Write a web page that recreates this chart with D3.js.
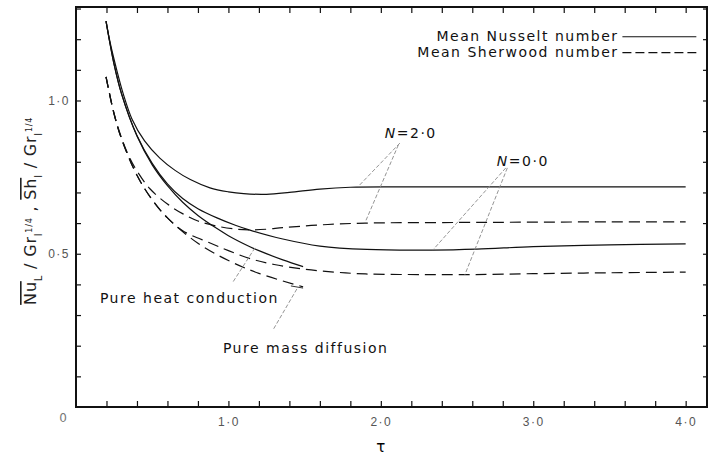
<!DOCTYPE html>
<html>
<head>
<meta charset="utf-8">
<script src="https://cdn.jsdelivr.net/npm/d3@7"></script>
<style>
  body { margin: 0; background: #fff; }
  svg { display: block; font-family: "DejaVu Sans", sans-serif; }
  .tick text { fill: #555; font-size: 12px; letter-spacing: 1.5px; }
  .tick line { stroke: #111; stroke-width: 1.2; }
  .curve { fill: none; stroke: #111; stroke-width: 1.2; }
  .dashed { stroke-dasharray: 11,6; }
  .leader { fill: none; stroke: #888; stroke-width: 0.9; stroke-dasharray: 4,2; }
  .lbl { font-size: 14px; fill: #111; letter-spacing: 1.5px; }
</style>
</head>
<body>
<script>
// values (tau, mean Nu or Sh divided by Gr^1/4)
var tauNu2 = [0.197, 0.223, 0.267, 0.308, 0.367, 0.45, 0.55, 0.65, 0.75, 0.879, 1.0, 1.1, 1.25, 1.4, 1.6, 1.8, 2.2, 2.6, 3.0, 3.5, 4.0];
var nu2    = [1.259, 1.191, 1.100, 1.025, 0.940, 0.868, 0.812, 0.772, 0.742, 0.715, 0.702, 0.696, 0.694, 0.700, 0.711, 0.717, 0.718, 0.718, 0.718, 0.718, 0.718];

var tauNu0 = [0.197, 0.25, 0.3, 0.4, 0.5, 0.6, 0.7, 0.8, 0.925, 1.05, 1.141, 1.357, 1.6, 1.908, 2.341, 2.63, 3.0, 3.5, 4.0];
var nu0    = [1.259, 1.118, 1.02, 0.886, 0.795, 0.728, 0.680, 0.647, 0.617, 0.592, 0.577, 0.548, 0.525, 0.514, 0.512, 0.515, 0.523, 0.529, 0.532];

var tauHeat = [0.197, 0.25, 0.3, 0.4, 0.5, 0.6, 0.7, 0.8, 0.925, 1.0, 1.141, 1.2, 1.357, 1.49];
var heat    = [1.259, 1.118, 1.02, 0.884, 0.79, 0.722, 0.668, 0.625, 0.582, 0.559, 0.523, 0.51, 0.48, 0.458];

var tauSh2 = [0.197, 0.25, 0.3, 0.35, 0.4, 0.485, 0.6, 0.702, 0.8, 0.925, 1.056, 1.141, 1.25, 1.357, 1.6, 1.9, 2.5, 3.0, 3.5, 4.0];
var sh2    = [1.077, 0.956, 0.876, 0.815, 0.77, 0.712, 0.662, 0.630, 0.607, 0.590, 0.580, 0.578, 0.580, 0.585, 0.594, 0.600, 0.602, 0.603, 0.604, 0.604];

var tauSh0 = [0.197, 0.25, 0.3, 0.4, 0.5, 0.6, 0.7, 0.88, 1.0, 1.15, 1.3, 1.49, 1.7, 1.9, 2.3, 2.6, 3.0, 3.5, 4.0];
var sh0    = [1.077, 0.956, 0.873, 0.756, 0.676, 0.617, 0.575, 0.535, 0.51, 0.483, 0.465, 0.450, 0.440, 0.434, 0.432, 0.432, 0.435, 0.438, 0.440];

var tauMass = [0.197, 0.25, 0.3, 0.4, 0.5, 0.6, 0.8, 1.0, 1.2, 1.49];
var mass    = [1.077, 0.956, 0.873, 0.756, 0.676, 0.617, 0.534, 0.478, 0.436, 0.392];

var xTickLabels = [1.0, 2.0, 3.0, 4.0];
var yTickLabels = [0.5, 1.0];

// annotation leaders, in data units: [tau1, v1, tau2, v2]
var leaders = [
  [2.125, 0.861, 1.849, 0.718],
  [2.115, 0.855, 1.895, 0.600],
  [2.82, 0.780, 2.341, 0.512],
  [2.83, 0.780, 2.551, 0.431],
  [1.174, 0.519, 1.03, 0.408],
  [1.449, 0.385, 1.292, 0.251]
];

var width = 709, height = 459;

var x = d3.scaleLinear().domain([0, 4.14]).range([76, 707]);
var y = d3.scaleLinear().domain([0, 1.305]).range([407, 7]);

var svg = d3.select("body").append("svg")
    .attr("width", width)
    .attr("height", height);

var fmt = function (d) { return d3.format(".1f")(d).replace(".", "\u00b7"); };
var xMinor = d3.range(0.2, 4.01, 0.2);
var yMinor = d3.range(0.1, 1.301, 0.1);
var isLabelled = function (arr) {
  return function (d) { return arr.some(function (v) { return Math.abs(v - d) < 1e-6; }) ? fmt(d) : ""; };
};

svg.append("g")
    .attr("transform", "translate(0," + y(0) + ")")
    .call(d3.axisBottom(x).tickValues(xMinor).tickSize(-6).tickPadding(10).tickFormat(isLabelled(xTickLabels)))
    .call(function (g) { g.select(".domain").remove(); });

svg.append("g")
    .attr("transform", "translate(0," + y(1.305) + ")")
    .call(d3.axisTop(x).tickValues(xMinor).tickSize(-6).tickFormat(""))
    .call(function (g) { g.select(".domain").remove(); });

svg.append("g")
    .attr("transform", "translate(" + x(0) + ",0)")
    .call(d3.axisLeft(y).tickValues(yMinor).tickSize(-5).tickPadding(6).tickFormat(isLabelled(yTickLabels)))
    .call(function (g) { g.select(".domain").remove(); });

svg.append("g")
    .attr("transform", "translate(" + x(4.14) + ",0)")
    .call(d3.axisRight(y).tickValues(yMinor).tickSize(-4).tickFormat(""))
    .call(function (g) { g.select(".domain").remove(); });

// origin label
svg.append("text")
    .attr("x", x(0) - 13).attr("y", y(0) + 15)
    .attr("text-anchor", "middle")
    .style("font-size", "12px").style("fill", "#777")
    .text("0");

// frame
svg.append("rect")
    .attr("x", x(0)).attr("y", y(1.305))
    .attr("width", x(4.14) - x(0)).attr("height", y(0) - y(1.305))
    .attr("fill", "none").attr("stroke", "#111").attr("stroke-width", 2);

var line = d3.line()
    .x(function (d) { return x(d[0]); })
    .y(function (d) { return y(d[1]); })
    .curve(d3.curveCatmullRom.alpha(0.5));

var series = [
  { t: tauNu2, v: nu2, dash: false },
  { t: tauNu0, v: nu0, dash: false },
  { t: tauHeat, v: heat, dash: false },
  { t: tauSh2, v: sh2, dash: true },
  { t: tauSh0, v: sh0, dash: true },
  { t: tauMass, v: mass, dash: true }
];

svg.selectAll("path.curve")
    .data(series)
    .enter().append("path")
    .attr("class", function (s) { return s.dash ? "curve dashed" : "curve"; })
    .attr("d", function (s) { return line(d3.zip(s.t, s.v)); });

svg.selectAll("line.leader")
    .data(leaders)
    .enter().append("line")
    .attr("class", "leader")
    .attr("x1", function (d) { return x(d[0]); })
    .attr("y1", function (d) { return y(d[1]); })
    .attr("x2", function (d) { return x(d[2]); })
    .attr("y2", function (d) { return y(d[3]); });

// small cap at the end of the pure mass diffusion curve
svg.append("line")
    .attr("x1", x(1.41)).attr("y1", y(0.395))
    .attr("x2", x(1.49)).attr("y2", y(0.388))
    .attr("stroke", "#333").attr("stroke-width", 1);

// labels
var nLabel = function (t, v, txt) {
  var tx = svg.append("text").attr("class", "lbl").attr("x", x(t)).attr("y", y(v));
  tx.append("tspan").style("font-style", "italic").text("N");
  tx.append("tspan").text("=" + txt);
};
nLabel(2.026, 0.878, "2\u00b70");
nLabel(2.761, 0.786, "0\u00b70");

svg.append("text").attr("class", "lbl").attr("x", x(0.157)).attr("y", y(0.339)).text("Pure heat conduction");
svg.append("text").attr("class", "lbl").attr("x", x(0.964)).attr("y", y(0.176)).text("Pure mass diffusion");

// legend
var legend = [
  { name: "Mean Nusselt number", dash: false, yy: 1.208 },
  { name: "Mean Sherwood number", dash: true, yy: 1.156 }
];
legend.forEach(function (l) {
  svg.append("text").attr("class", "lbl")
      .attr("x", x(3.56)).attr("y", y(l.yy) + 4)
      .attr("text-anchor", "end").text(l.name);
  svg.append("line")
      .attr("class", l.dash ? "curve dashed" : "curve")
      .attr("x1", x(3.585)).attr("x2", x(4.07))
      .attr("y1", y(l.yy)).attr("y2", y(l.yy))
      .style("stroke-dasharray", l.dash ? "9,4" : null);
});

// axis titles
svg.append("text")
    .attr("x", x(2.0)).attr("y", 452)
    .attr("text-anchor", "middle")
    .style("font-size", "15px")
    .text("\u03c4");

var yt = svg.append("text")
    .attr("transform", "translate(36," + y(0.64) + ") rotate(-90)")
    .attr("text-anchor", "middle")
    .style("font-size", "16px").style("fill", "#222").style("letter-spacing", "0.8px");
yt.append("tspan").style("text-decoration", "overline").text("Nu");
yt.append("tspan").attr("baseline-shift", "sub").style("font-size", "10px").text("L");
yt.append("tspan").text(" / Gr");
yt.append("tspan").attr("baseline-shift", "sub").style("font-size", "10px").text("l");
yt.append("tspan").attr("baseline-shift", "super").style("font-size", "8px").text("1/4");
yt.append("tspan").text(" ,   ");
yt.append("tspan").style("text-decoration", "overline").text("Sh");
yt.append("tspan").attr("baseline-shift", "sub").style("font-size", "10px").text("l");
yt.append("tspan").text(" / Gr");
yt.append("tspan").attr("baseline-shift", "sub").style("font-size", "10px").text("l");
yt.append("tspan").attr("baseline-shift", "super").style("font-size", "8px").text("1/4");
</script>
</body>
</html>
